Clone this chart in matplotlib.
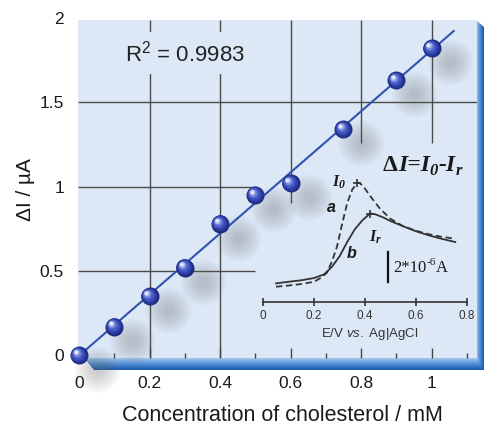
import numpy as np
import matplotlib
matplotlib.use("Agg")
import matplotlib.pyplot as plt
from matplotlib.transforms import offset_copy
from matplotlib.colors import LinearSegmentedColormap
from matplotlib.patches import Polygon, Rectangle
from matplotlib.ticker import MultipleLocator

plt.rcParams["font.family"] = ["Liberation Sans", "DejaVu Sans"]
plt.rcParams["mathtext.fontset"] = "custom"
plt.rcParams["mathtext.rm"] = "Liberation Sans"
plt.rcParams["mathtext.it"] = "Liberation Sans:italic"

# calibration points
conc = [0, 0.1, 0.2, 0.3, 0.4, 0.5, 0.6, 0.75, 0.9, 1.0]
delta_i = [0.0, 0.17, 0.35, 0.52, 0.78, 0.95, 1.02, 1.34, 1.63, 1.82]
r2_label = "R$^2$ = 0.9983"

x_ticks = [0, 0.2, 0.4, 0.6, 0.8, 1.0]
y_ticks = [0, 0.5, 1.0, 1.5, 2.0]

# inset voltammograms (potential in V, current in uA)
pot_a = [0.05, 0.10, 0.15, 0.20, 0.23, 0.25, 0.27, 0.29, 0.31, 0.33, 0.35, 0.37,
         0.38, 0.40, 0.43, 0.46, 0.50, 0.55, 0.60, 0.65, 0.70, 0.755]
cur_a = [1.02, 1.10, 1.20, 1.35, 1.65, 1.95, 2.70, 3.70, 5.20, 6.60, 7.50, 7.95,
         7.93, 7.55, 6.85, 6.20, 5.55, 5.05, 4.75, 4.52, 4.35, 4.22]
pot_b = [0.05, 0.10, 0.15, 0.20, 0.24, 0.27, 0.30, 0.33, 0.36, 0.39, 0.42, 0.44,
         0.47, 0.50, 0.55, 0.60, 0.65, 0.70, 0.755]
cur_b = [1.24, 1.35, 1.45, 1.60, 1.85, 2.35, 3.05, 4.00, 4.85, 5.45, 5.90, 5.85,
         5.65, 5.40, 5.05, 4.72, 4.45, 4.22, 4.00]
inset_ticks = [0, 0.2, 0.4, 0.6, 0.8]
scale_bar = 2.0  # uA

panel = "#dce8f6"
W, H = 484, 426
fig = plt.figure(figsize=(W / 100, H / 100), dpi=100)

# background panel with a bevelled blue frame (pixel coordinates)
bg = fig.add_axes([0, 0, 1, 1], zorder=-1)
bg.add_patch(Rectangle((78, 20), 399, 338, facecolor=panel, edgecolor="none"))
frame_cm = LinearSegmentedColormap.from_list("frame", ["#a6c9ee", "#4f8dd6", "#1a58a8"])
bottom = Polygon([(84, 358), (477, 358), (484, 362), (484, 370), (94, 370)],
                 facecolor="none", edgecolor="none")
right = Polygon([(476, 20), (484, 27), (484, 370), (477, 358)],
                facecolor="none", edgecolor="none")
bg.add_patch(bottom)
bg.add_patch(right)
g = np.linspace(0, 1, 64)
im1 = bg.imshow(g.reshape(-1, 1), cmap=frame_cm, extent=(78, 484, 370, 358), aspect="auto")
im1.set_clip_path(bottom)
im2 = bg.imshow(g.reshape(1, -1), cmap=frame_cm, extent=(476, 484, 370, 20), aspect="auto")
im2.set_clip_path(right)
bg.set_xlim(0, W)
bg.set_ylim(H, 0)
bg.axis("off")

# main calibration plot
ax = fig.add_axes([78 / W, 1 - 358 / H, 399 / W, 340 / H])
ax.patch.set_visible(False)
ax.set_xlim(-0.003, 1.129)
ax.set_ylim(-0.016, 2.0)
for s in ax.spines.values():
    s.set_visible(False)

grid = dict(color="#4a4a4a", lw=1.0, zorder=1)
ax.vlines([0.2, 0.4], -0.016, 1.988, **grid)
ax.vlines(0.6, 0.905, 1.988, **grid)
ax.vlines([0.8, 1.0], 1.259, 1.988, **grid)
ax.hlines(1.5, -0.003, 1.129, **grid)
ax.hlines([0.5, 1.0], -0.003, 0.5, **grid)

ax.text(0.13, 1.745, r2_label, fontsize=16, color="#222", va="baseline", zorder=2,
        bbox=dict(boxstyle="square,pad=0.35", fc=panel, ec="none"))

slope, icpt = np.polyfit(conc, delta_i, 1)
xf = np.array([0, 1.063])
ax.plot(xf, slope * xf + icpt, color="#3352b0", lw=1.5, zorder=3)

# soft shadows
sh = offset_copy(ax.transData, fig=fig, x=18, y=-14, units="dots")
for d in range(46, 8, -4):
    ax.scatter(conc, delta_i, s=(d * 0.72) ** 2, color="#6a6a6a", alpha=0.035,
               lw=0, transform=sh, clip_on=False, zorder=2)

# shaded spheres
sphere_cm = LinearSegmentedColormap.from_list(
    "sphere", ["#1c2878", "#3246b5", "#5a6dd2", "#e6eafb"])
n = 12
for i in range(n):
    f = i / (n - 1)
    tr = offset_copy(ax.transData, fig=fig, x=-3.5 * f, y=3.5 * f, units="dots")
    ax.scatter(conc, delta_i, s=(18 * (1 - 0.82 * f) * 0.72) ** 2,
               color=sphere_cm(f), lw=0, transform=tr, clip_on=False, zorder=4 + i * 0.01)

ax.set_xticks(x_ticks)
ax.set_xticklabels([f"{v:g}" for v in x_ticks])
ax.xaxis.set_minor_locator(MultipleLocator(0.1))
ax.tick_params(axis="x", which="major", direction="in", length=7, width=1,
               color="#444", pad=13, labelsize=12.5, labelcolor="#1a1a1a")
ax.tick_params(axis="x", which="minor", direction="in", length=3.5, width=1, color="#444")
ax.set_yticks(y_ticks)
ax.set_yticklabels([f"{v:g}" for v in y_ticks])
ax.tick_params(axis="y", length=0, pad=10, labelsize=12.5, labelcolor="#1a1a1a")

ax.set_xlabel("Concentration of cholesterol / mM", fontsize=15.5, color="#1a1a1a")
ax.xaxis.set_label_coords(0.5125, -0.138)
ax.set_ylabel("\u0394I / \u00b5A", fontsize=15, color="#1a1a1a")
ax.yaxis.set_label_coords(-0.108, 0.494)


def chain(axis, x, y, parts, transform):
    """Write text pieces one after another (for sub/superscripts)."""
    txt, kw, dy = parts[0]
    t = axis.annotate(txt, xy=(x, y), xycoords=transform, xytext=(0, dy),
                      textcoords="offset points", va="baseline", ha="left", **kw)
    for txt, kw, dy in parts[1:]:
        t = axis.annotate(txt, xy=(1, y), xycoords=(t, transform), xytext=(0, dy),
                          textcoords="offset points", va="baseline", ha="left", **kw)
    return t


bi = dict(family="Liberation Serif", weight="bold", style="italic", color="#1a1a1a")
up = dict(family="Liberation Serif", weight="bold", color="#1a1a1a")
chain(ax, 0.862, 1.093,
      [("\u0394", dict(up, fontsize=17), 0),
       ("I=I", dict(bi, fontsize=17), 0),
       ("0", dict(bi, fontsize=12), -3),
       ("-I", dict(bi, fontsize=17), 0),
       ("r", dict(bi, fontsize=12), -3)], ax.transData)

# inset: voltammograms
ins = fig.add_axes([263.3 / W, 1 - 302 / H, 203.4 / W, 150 / H])
ins.patch.set_visible(False)
ins.set_xlim(0, 0.8)
ins.set_ylim(0, 10)
for k in ["top", "right", "left"]:
    ins.spines[k].set_visible(False)
ins.spines["bottom"].set_color("#333")
ins.spines["bottom"].set_linewidth(1.2)
ins.set_xticks(inset_ticks)
ins.set_xticklabels([f"{v:g}" for v in inset_ticks])
ins.set_yticks([])
ins.tick_params(axis="x", direction="inout", length=6, width=1.2, color="#333",
                labelsize=8.5, labelcolor="#333", pad=3)
ins.set_xlabel("E/V $\\mathit{vs.}$ Ag|AgCl", fontsize=9.5, color="#333")
ins.xaxis.set_label_coords(0.525, -0.16)

ins.plot(pot_a, cur_a, color="#333", lw=1.3, ls=(0, (3.5, 2)))
ins.plot(pot_b, cur_b, color="#333", lw=1.3)
ia, ib = int(np.argmax(cur_a)), int(np.argmax(cur_b))
ins.plot(pot_a[ia], cur_a[ia], marker="+", ms=6, mew=1.2, color="#333")
ins.plot(pot_b[ib], cur_b[ib], marker="+", ms=6, mew=1.2, color="#333")

ins.plot([0.49, 0.49], [1.35, 1.35 + scale_bar], color="#111", lw=1.6)
rg = dict(family="Liberation Serif", color="#1a1a1a")
chain(ins, 0.51, 2.0,
      [("2*10", dict(rg, fontsize=12), 0),
       ("-6", dict(rg, fontsize=8), 5),
       ("A", dict(rg, fontsize=12), 0)], ins.transData)

sb = dict(weight="bold", style="italic", fontsize=11.5, color="#1a1a1a")
ins.text(0.25, 6.0, "a", va="baseline", **sb)
ins.text(0.33, 2.93, "b", va="baseline", **sb)
chain(ins, 0.27, 7.73, [("I", dict(bi, fontsize=11.5), 0),
                        ("0", dict(bi, fontsize=8.5), -1.5)], ins.transData)
chain(ins, 0.416, 4.07, [("I", dict(bi, fontsize=11.5), 0),
                         ("r", dict(bi, fontsize=8.5), -1.5)], ins.transData)

fig.savefig("out.png", dpi=100)
